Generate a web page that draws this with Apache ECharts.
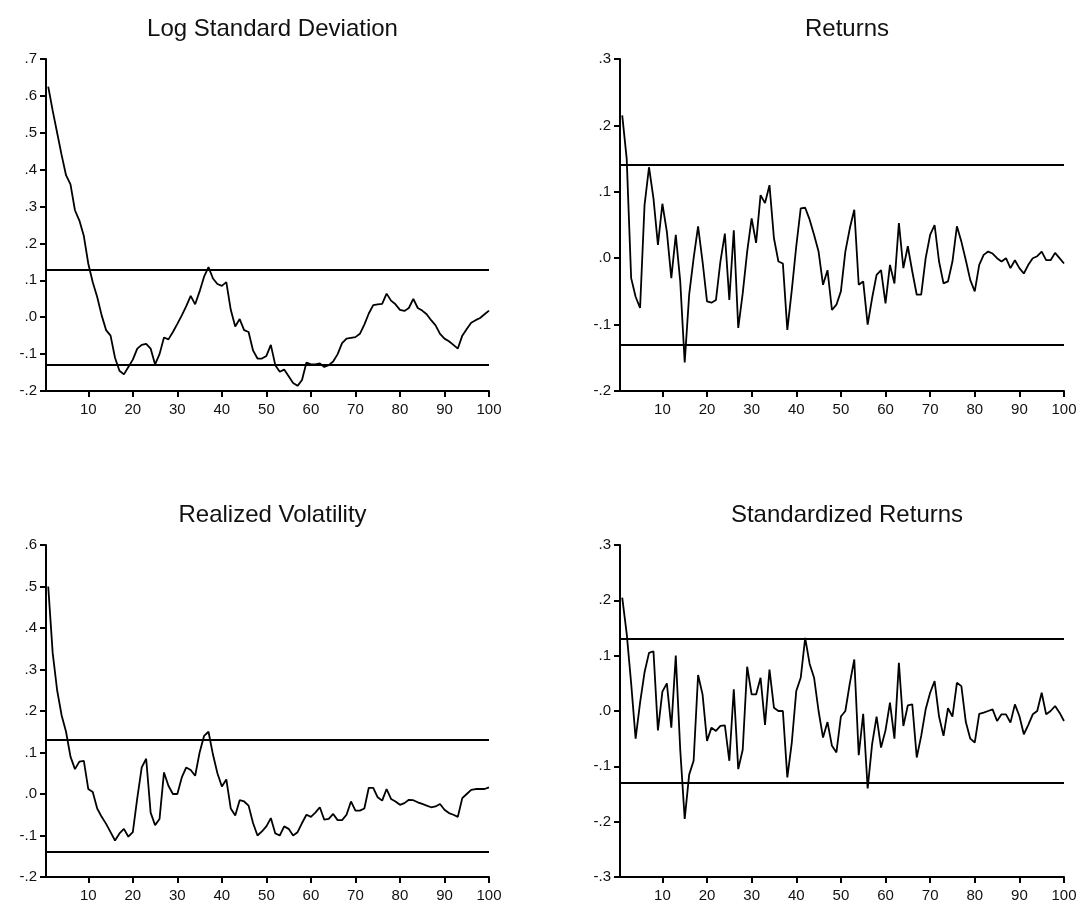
<!DOCTYPE html>
<html>
<head>
<meta charset="utf-8">
<script src="https://cdn.jsdelivr.net/npm/echarts@6/dist/echarts.min.js"></script>
<style>
html,body{margin:0;padding:0;background:#fff;}
#chart{width:1084px;height:916px;}
</style>
</head>
<body>
<div id="chart"></div>
<script>
// ---- data ----
const titles = ['Log Standard Deviation', 'Returns', 'Realized Volatility', 'Standardized Returns'];
const xTicks = [10, 20, 30, 40, 50, 60, 70, 80, 90, 100];

const logStdDev = [
  .625, .56, .50, .44, .385, .36, .29, .262, .22, .145,
  .095, .055, .005, -.035, -.05, -.11, -.145, -.155, -.135, -.115,
  -.085, -.075, -.072, -.085, -.128, -.10, -.055, -.06, -.04, -.018,
  .005, .03, .058, .035, .07, .11, .136, .105, .09, .085,
  .095, .02, -.025, -.005, -.035, -.04, -.09, -.112, -.112, -.105,
  -.075, -.13, -.148, -.142, -.16, -.178, -.186, -.17, -.123, -.128,
  -.128, -.125, -.135, -.13, -.12, -.10, -.07, -.058, -.056, -.054,
  -.045, -.02, .01, .033, .035, .036, .064, .045, .035, .02,
  .017, .025, .05, .025, .018, .008, -.008, -.022, -.045, -.058,
  -.065, -.075, -.085, -.05, -.032, -.015, -.008, -.002, .008, .018
];

const returns = [
  .215, .15, -.03, -.058, -.075, .08, .137, .09, .02, .082,
  .04, -.03, .035, -.035, -.157, -.055, .0, .048, -.005, -.065,
  -.067, -.063, -.005, .037, -.063, .042, -.105, -.053, .01, .06,
  .023, .095, .083, .11, .03, -.005, -.008, -.108, -.048, .018,
  .075, .076, .058, .035, .01, -.04, -.018, -.078, -.07, -.05,
  .01, .045, .073, -.04, -.035, -.10, -.06, -.025, -.018, -.068,
  -.01, -.038, .053, -.015, .018, -.02, -.055, -.055, .0, .035,
  .05, -.005, -.038, -.035, -.005, .048, .025, -.003, -.033, -.05,
  -.01, .005, .01, .007, .0, -.005, .0, -.015, -.003, -.015,
  -.023, -.01, .0, .003, .01, -.003, -.003, .008, .0, -.008
];

const realizedVol = [
  .50, .34, .25, .19, .15, .09, .06, .078, .08, .012,
  .005, -.035, -.055, -.072, -.092, -.112, -.095, -.084, -.103, -.092,
  -.01, .064, .085, -.045, -.075, -.06, .052, .02, .0, .0,
  .04, .064, .058, .044, .10, .14, .15, .095, .05, .018,
  .035, -.035, -.052, -.015, -.018, -.028, -.07, -.10, -.09, -.078,
  -.058, -.095, -.10, -.078, -.084, -.10, -.092, -.07, -.05, -.055,
  -.045, -.032, -.062, -.06, -.048, -.063, -.063, -.05, -.018, -.04,
  -.04, -.035, .015, .015, -.008, -.016, .012, -.012, -.018, -.026,
  -.022, -.014, -.015, -.02, -.024, -.028, -.032, -.03, -.024, -.038,
  -.046, -.05, -.055, -.01, .0, .01, .012, .012, .012, .016
];

const stdReturns = [
  .205, .14, .05, -.05, .015, .07, .105, .108, -.035, .035,
  .05, -.03, .10, -.07, -.195, -.115, -.09, .065, .03, -.054,
  -.03, -.036, -.027, -.026, -.09, .039, -.105, -.07, .08, .03,
  .03, .06, -.025, .075, .006, .0, .0, -.12, -.057, .036,
  .06, .132, .085, .06, .0, -.048, -.02, -.063, -.075, -.01,
  .0, .05, .093, -.08, -.005, -.14, -.06, -.01, -.066, -.035,
  .015, -.05, .087, -.027, .01, .012, -.084, -.045, .003, .033,
  .054, -.01, -.045, .005, -.01, .051, .045, -.02, -.05, -.057,
  -.005, -.003, .0, .003, -.018, -.006, -.006, -.021, .012, -.009,
  -.042, -.025, -.006, .0, .033, -.006, .0, .009, -.003, -.018
];

const bands = [[.131, -.131], [.136, -.130], [.130, -.135], [.131, -.133]];
const yRanges = [[-0.2, 0.7], [-0.2, 0.3], [-0.2, 0.6], [-0.3, 0.3]];

// ---- layout ----
const FONT = "'Liberation Sans', Arial, sans-serif";
const grids = [
  {left: 46, top: 59, width: 443, height: 332},
  {left: 620, top: 59, width: 444, height: 332},
  {left: 46, top: 545, width: 443, height: 332},
  {left: 620, top: 545, width: 444, height: 332}
];
const seriesData = [logStdDev, returns, realizedVol, stdReturns];

function fmt(v) {
  let s = (Math.round(v * 10) / 10).toFixed(1);
  if (s === '-0.0') s = '0.0';
  return s.replace('0.', '.');
}

const option = {
  backgroundColor: '#fff',
  animation: false,
  title: titles.map((t, k) => ({
    text: t,
    left: grids[k].left + grids[k].width / 2,
    top: k < 2 ? 12 : 498,
    textAlign: 'center',
    textStyle: {fontFamily: FONT, fontSize: 24, fontWeight: 'normal', color: '#111'}
  })),
  grid: grids.map(g => Object.assign({containLabel: false}, g)),
  xAxis: grids.map((g, k) => ({
    type: 'value', gridIndex: k, min: 0.5, max: 100,
    axisLine: {show: true, onZero: false, lineStyle: {color: '#000', width: 2}},
    axisTick: {show: true, length: 6, customValues: xTicks, lineStyle: {color: '#000', width: 2}},
    axisLabel: {customValues: xTicks, color: '#111', fontFamily: FONT, fontSize: 15, margin: 11},
    splitLine: {show: false}
  })),
  yAxis: grids.map((g, k) => ({
    type: 'value', gridIndex: k, min: yRanges[k][0], max: yRanges[k][1], interval: 0.1,
    axisLine: {show: true, onZero: false, lineStyle: {color: '#000', width: 2}},
    axisTick: {show: true, length: 6, lineStyle: {color: '#000', width: 2}},
    axisLabel: {color: '#111', fontFamily: FONT, fontSize: 15, margin: 9, formatter: fmt},
    splitLine: {show: false}
  })),
  series: seriesData.map((d, k) => ({
    type: 'line', xAxisIndex: k, yAxisIndex: k,
    data: d.map((v, i) => [i + 1, v]),
    symbol: 'none', smooth: false,
    lineStyle: {color: '#000', width: 1.8},
    markLine: {
      silent: true, symbol: 'none', label: {show: false},
      lineStyle: {color: '#000', width: 1.8, type: 'solid'},
      data: [{yAxis: bands[k][0]}, {yAxis: bands[k][1]}]
    }
  }))
};

echarts.init(document.getElementById('chart')).setOption(option);
</script>
</body>
</html>
